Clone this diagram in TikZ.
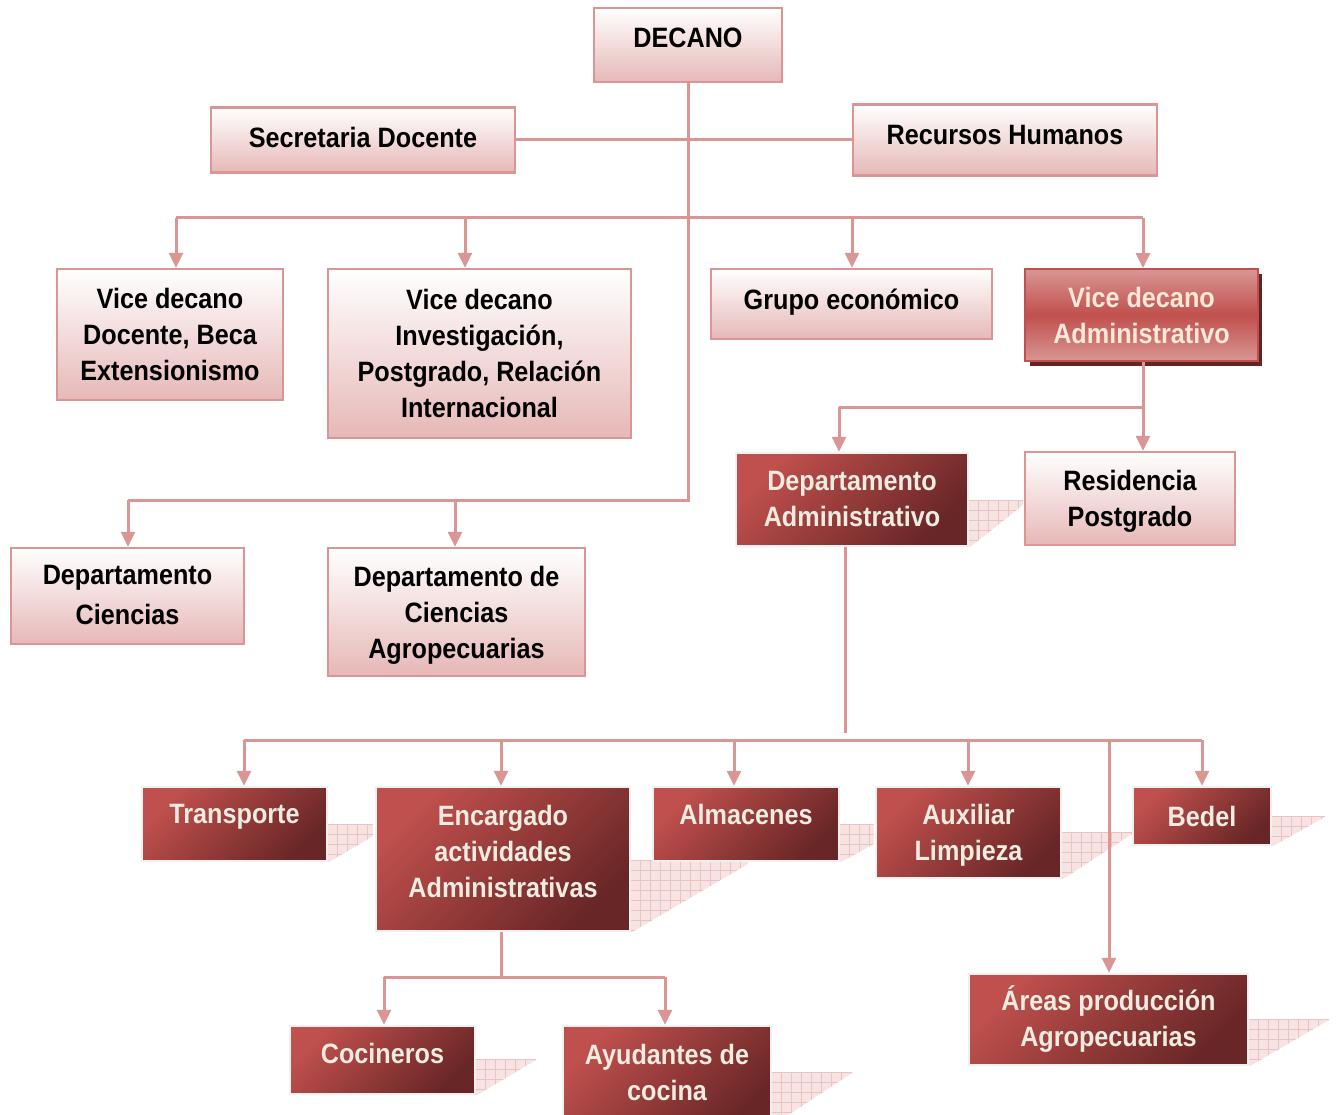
\documentclass[tikz,border=0pt]{standalone}
\usepackage{fontspec}
\setmainfont{Liberation Sans}[FakeStretch=0.9]
\usetikzlibrary{arrows.meta}
\definecolor{lnk}{HTML}{D99694}
\definecolor{lbot}{HTML}{E6B8B7}
\definecolor{dred}{HTML}{C0504D}
\definecolor{ddark}{HTML}{682626}
\definecolor{cream}{HTML}{EEECE1}
\definecolor{peach}{HTML}{FDE9D9}
\definecolor{shf}{HTML}{F6E3E2}
\definecolor{shg}{HTML}{E9C3C2}
\definecolor{vdshadow}{HTML}{632523}
\newcommand\mkshadow[5]{%
  \begin{scope}
    \clip (#1,#2) -- (#3,#2) -- (#3,#4) -- (#1+2,#5) -- (#1,#5) -- cycle;
    \fill[shf] (#1,#2) rectangle (#3,#5);
    \foreach \gx in {0,10,...,130} \draw[shg, line width=0.8pt] (#1+\gx,#2) -- (#1+\gx,#5);
    \foreach \gy in {0,10,...,90} \draw[shg, line width=0.8pt] (#1,#2+\gy) -- (#3,#2+\gy);
  \end{scope}}
\tikzset{
  txt/.style={align=center, inner sep=0pt, font=\fontsize{28}{36}\selectfont\bfseries},
  lightbox/.style={txt, draw=lnk, line width=2.5pt, top color=white, bottom color=lbot, text=black},
  darkbox/.style={txt, draw=black!6, line width=2.5pt, top color=dred, bottom color=ddark, shading angle=45, text=cream},
  vdbox/.style={txt, draw=dred, line width=2pt, top color=lnk, bottom color=lnk, middle color=dred, text=peach},
  ln/.style={draw=lnk, line width=3pt},
  arr/.style={ln, -{Triangle[width=14pt,length=15pt]}}
}
\begin{document}
\begin{tikzpicture}[x=1pt,y=-1pt]
\useasboundingbox[fill=white] (0,0) rectangle (1337,1115);
% pattern shadows
\mkshadow{968}{500}{1023}{505}{547}
\mkshadow{327}{824}{373}{836}{862}
\mkshadow{630}{860}{748}{864}{932}
\mkshadow{839}{824}{874}{844}{862}
\mkshadow{1061}{832}{1132}{834}{879}
\mkshadow{1271}{816}{1325}{817}{846}
\mkshadow{1248}{1019}{1329}{1020}{1066}
\mkshadow{475}{1059}{536}{1060}{1095}
\mkshadow{771}{1072}{852}{1073}{1125}
% solid shadow of Vice decano Administrativo
\fill[vdshadow] (1030,274) rectangle (1262,366);
% boxes
\node[lightbox, minimum width=188pt, minimum height=74pt, text depth=14pt] (dec) at (688,45) {DECANO};
\node[lightbox, minimum width=304pt, minimum height=65pt, text depth=6pt] (sec) at (363,140) {Secretaria Docente};
\node[lightbox, minimum width=304pt, minimum height=71pt, text depth=10pt] (rh) at (1005,140) {Recursos Humanos};
\node[lightbox, minimum width=226pt, minimum height=131pt] (vd1) at (170,334.5) {Vice decano\\Docente, Beca\\Extensionismo};
\node[lightbox, minimum width=303pt, minimum height=169pt] (vd2) at (479.5,353.5) {Vice decano\\Investigación,\\Postgrado, Relación\\Internacional};
\node[lightbox, minimum width=281pt, minimum height=70pt, text depth=10pt] (ge) at (851.5,304) {Grupo económico};
\node[vdbox, minimum width=233pt, minimum height=92pt] (vda) at (1141.5,315) {Vice decano\\Administrativo};
\node[darkbox, minimum width=232pt, minimum height=93pt] (dad) at (852,499.5) {Departamento\\Administrativo};
\node[lightbox, minimum width=210pt, minimum height=93pt, text depth=-2pt] (res) at (1130,498.5) {Residencia\\Postgrado};
\node[lightbox, minimum width=233pt, minimum height=96pt, font=\fontsize{28}{40}\selectfont\bfseries, text depth=2pt] (dc) at (127.5,596) {Departamento\\Ciencias};
\node[lightbox, minimum width=257pt, minimum height=128pt, text depth=0pt] (dca) at (456.5,612) {Departamento de\\Ciencias\\Agropecuarias};
\node[darkbox, minimum width=185pt, minimum height=74pt, text depth=20pt] (tr) at (234.5,824) {Transporte};
\node[darkbox, minimum width=254pt, minimum height=144pt, text depth=16pt] (enc) at (503,859) {Encargado\\actividades\\Administrativas};
\node[darkbox, minimum width=186pt, minimum height=74pt, text depth=20pt] (alm) at (746,824) {Almacenes};
\node[darkbox, minimum width=185pt, minimum height=91pt, text depth=-1pt] (aux) at (968.5,832.5) {Auxiliar\\Limpieza};
\node[darkbox, minimum width=138pt, minimum height=58pt] (bed) at (1202,816) {Bedel};
\node[darkbox, minimum width=279pt, minimum height=91pt] (are) at (1108.5,1019.5) {Áreas producción\\Agropecuarias};
\node[darkbox, minimum width=185pt, minimum height=68pt, text depth=14pt] (coc) at (382.5,1060) {Cocineros};
\node[darkbox, minimum width=208pt, minimum height=104pt, text depth=12pt] (ayu) at (667,1078) {Ayudantes de\\cocina};
% connector points
\coordinate (jA) at (688,500);
\coordinate (jB) at (128,500);
\coordinate (jC) at (455,500);
\coordinate (b1) at (176,218);
\coordinate (b2) at (465,218);
\coordinate (b3) at (852,218);
\coordinate (b4) at (1143,218);
\coordinate (v1) at (1143,407);
\coordinate (v2) at (839,407);
\coordinate (d1) at (845,733);
\coordinate (c1) at (244,740);
\coordinate (c2) at (501,740);
\coordinate (c3) at (734,740);
\coordinate (c4) at (968,740);
\coordinate (c5) at (1109,740);
\coordinate (c6) at (1202,740);
\coordinate (e0) at (501,977);
\coordinate (e1) at (384,977);
\coordinate (e2) at (665,977);
% connectors
\draw[ln] (sec.east) -- (sec.east -| rh.west);
\draw[ln] (dec.south) -- (jA) -- (jB);
\draw[arr] (jB) -- (jB |- dc.north);
\draw[arr] (jC) -- (jC |- dca.north);
\draw[ln] (b1) -- (b4);
\draw[arr] (b1) -- (b1 |- vd1.north);
\draw[arr] (b2) -- (b2 |- vd2.north);
\draw[arr] (b3) -- (b3 |- ge.north);
\draw[arr] (b4) -- (b4 |- vda.north);
\draw[ln] (v1 |- vda.south) -- (v1) -- (v2);
\draw[arr] (v2) -- (v2 |- dad.north);
\draw[arr] (v1) -- (v1 |- res.north);
\draw[ln] (d1 |- dad.south) -- (d1);
\draw[ln] (c1) -- (c6);
\draw[arr] (c1) -- (c1 |- tr.north);
\draw[arr] (c2) -- (c2 |- enc.north);
\draw[arr] (c3) -- (c3 |- alm.north);
\draw[arr] (c4) -- (c4 |- aux.north);
\draw[arr] (c5) -- (c5 |- are.north);
\draw[arr] (c6) -- (c6 |- bed.north);
\draw[ln] (e0 |- enc.south) -- (e0);
\draw[ln] (e1) -- (e2);
\draw[arr] (e1) -- (e1 |- coc.north);
\draw[arr] (e2) -- (e2 |- ayu.north);
\end{tikzpicture}
\end{document}
